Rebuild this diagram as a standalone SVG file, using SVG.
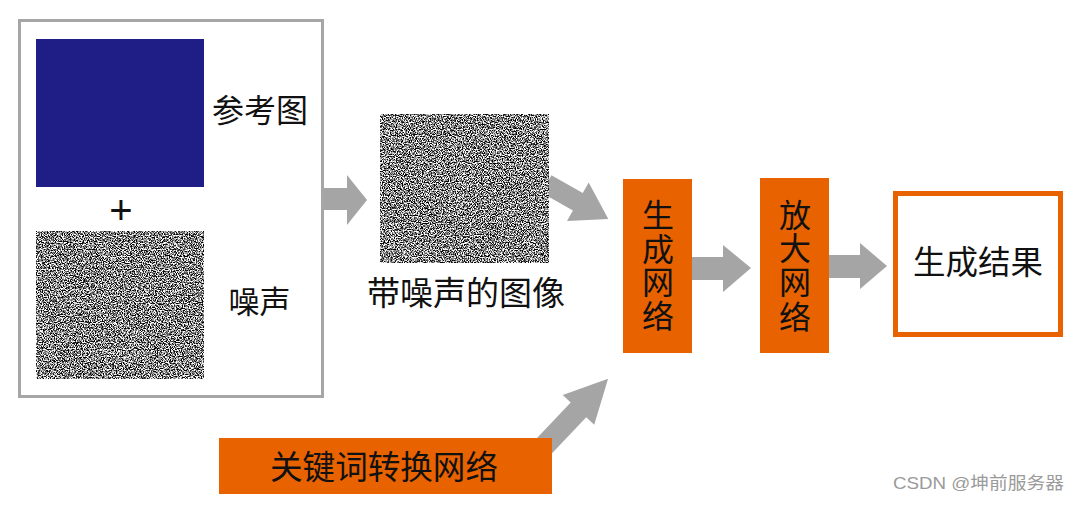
<svg xmlns="http://www.w3.org/2000/svg" width="1080" height="513" viewBox="0 0 1080 513">
<style>
.cjk{font-family:"Noto Sans CJK SC","Noto Sans",sans-serif;fill:#111;}
.arrow{fill:#a5a5a5;}
.orange{fill:#e96200;}
</style>
<defs>
<filter id="noise" x="0" y="0" width="1" height="1" filterUnits="objectBoundingBox" color-interpolation-filters="sRGB">
<feTurbulence type="fractalNoise" baseFrequency="0.85" numOctaves="2" seed="7" result="t"/>
<feColorMatrix in="t" type="matrix" values="1 0 0 0 0  1 0 0 0 0  1 0 0 0 0  0 0 0 0 1"/>
<feComponentTransfer>
<feFuncR type="linear" slope="3.8" intercept="-1.38"/>
<feFuncG type="linear" slope="3.8" intercept="-1.38"/>
<feFuncB type="linear" slope="3.8" intercept="-1.38"/>
</feComponentTransfer>
</filter>
</defs>
<rect width="1080" height="513" fill="#ffffff"/>
<g id="connectors">
<polygon class="arrow" points="322,188 347,188 347,175 367,200 347,225 347,210 322,210"/>
<polygon class="arrow" transform="translate(550,186) rotate(29.5)" points="-4,-10 32,-10 32,-22 67,0 32,22 32,10 -4,10"/>
<polygon class="arrow" points="690,257 723,257 723,245 751,268 723,292 723,280 690,280"/>
<polygon class="arrow" points="827,255 860,255 860,243 887,266 860,289 860,278 827,278"/>
<polygon class="arrow" transform="translate(547.5,442.5) rotate(-46.5)" points="-6,-10.7 45,-10.7 45,-21.7 88,0 45,21.7 45,10.7 -6,10.7"/>
</g>
<g id="input-group">
<rect x="19.5" y="20.5" width="303" height="376" fill="#ffffff" stroke="#a6a6a6" stroke-width="3"/>
</g>
<g id="reference-image">
<rect x="36" y="39" width="168" height="148" fill="#1e1e86"/>
<text class="cjk" x="212" y="122" font-size="32">参考图</text>
</g>
<g id="plus">
<text x="121" y="224" font-size="40" text-anchor="middle" style="font-family:'Liberation Sans',sans-serif;fill:#111">+</text>
</g>
<g id="noise-image">
<rect x="36" y="231" width="168" height="148" fill="#888" filter="url(#noise)"/>
<text class="cjk" x="259.5" y="313" font-size="31" text-anchor="middle">噪声</text>
</g>
<g id="noisy-image">
<rect x="380" y="114" width="169" height="149" fill="#888" filter="url(#noise)"/>
<text class="cjk" x="466" y="305" font-size="33" text-anchor="middle">带噪声的图像</text>
</g>
<g id="generation-network">
<rect class="orange" x="623" y="179" width="69" height="174"/>
<text class="cjk" font-size="32" text-anchor="middle"><tspan x="658" y="227">生</tspan><tspan x="658" y="261">成</tspan><tspan x="658" y="294">网</tspan><tspan x="658" y="328">络</tspan></text>
</g>
<g id="upscale-network">
<rect class="orange" x="760" y="178" width="69" height="175"/>
<text class="cjk" font-size="32" text-anchor="middle"><tspan x="795" y="227">放</tspan><tspan x="795" y="260">大</tspan><tspan x="795" y="294">网</tspan><tspan x="795" y="329">络</tspan></text>
</g>
<g id="result">
<rect x="895.5" y="193.5" width="165" height="141" fill="#ffffff" stroke="#e96200" stroke-width="5"/>
<text class="cjk" x="978" y="274" font-size="32.5" text-anchor="middle">生成结果</text>
</g>
<g id="keyword-network">
<rect class="orange" x="219" y="438" width="333" height="56"/>
<text class="cjk" x="384" y="479" font-size="32.6" text-anchor="middle">关键词转换网络</text>
</g>
<g id="watermark">
<text x="893" y="489" font-size="17" textLength="171" lengthAdjust="spacingAndGlyphs" style="font-family:'Liberation Sans','Noto Sans CJK SC',sans-serif;fill:#9a9a9a">CSDN @坤前服务器</text>
</g>
</svg>
